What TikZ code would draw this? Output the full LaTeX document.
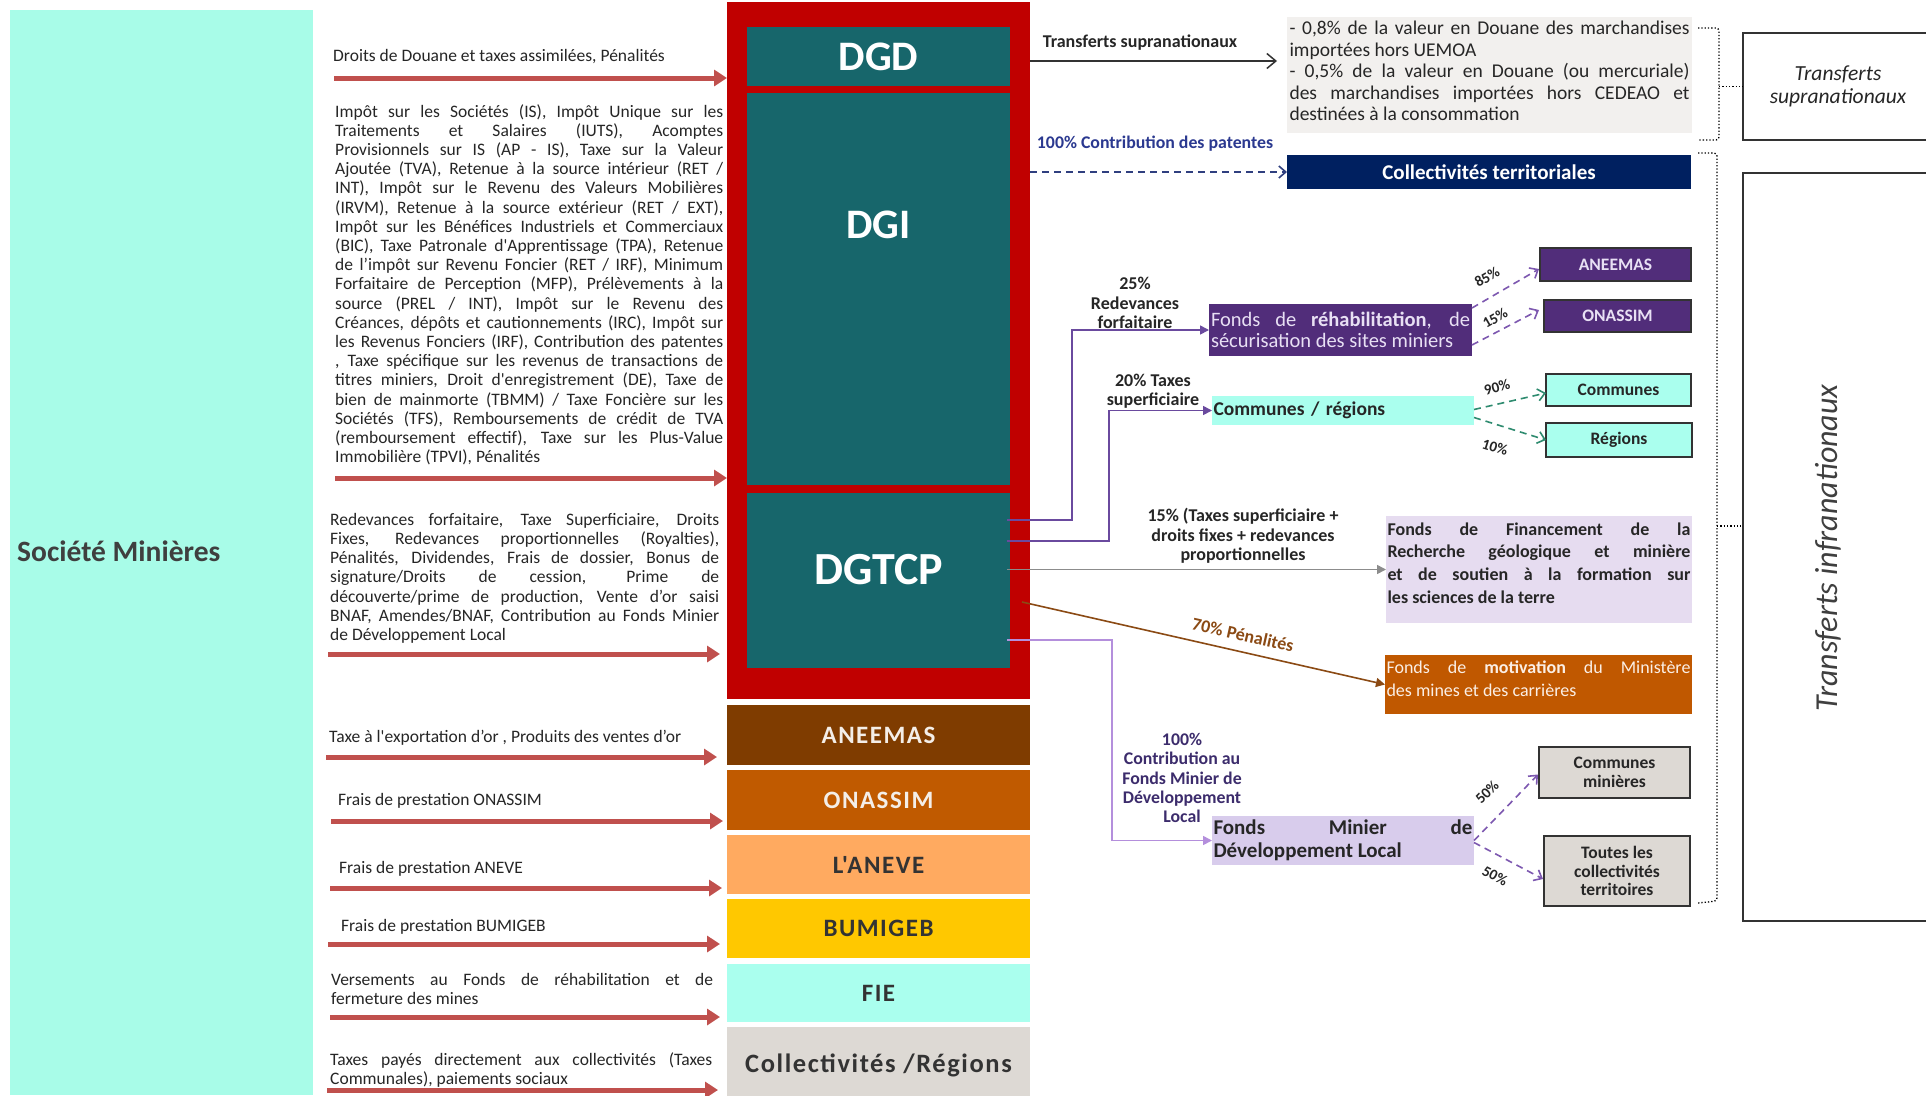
\documentclass[tikz,border=0pt]{standalone}
\usepackage{fontspec}
\setmainfont{Carlito}[Ligatures=TeXOff]
\newfontfamily\widefont{Carlito}[LetterSpace=6,Ligatures=TeXOff]
\usetikzlibrary{arrows.meta,calc}
\definecolor{cAqua}{HTML}{A8FCE8}
\definecolor{cRed}{HTML}{C00000}
\definecolor{cTeal}{HTML}{17666B}
\definecolor{cAne}{HTML}{7F3C00}
\definecolor{cOna}{HTML}{C05A00}
\definecolor{cAnv}{HTML}{FFAA60}
\definecolor{cBum}{HTML}{FFC800}
\definecolor{cFie}{HTML}{AAFFEE}
\definecolor{cCol}{HTML}{DDD9D4}
\definecolor{cArrow}{HTML}{C0504D}
\definecolor{cTxt}{HTML}{262626}
\definecolor{cSoc}{HTML}{3F3F3F}
\definecolor{cLight}{HTML}{F4EEE8}
\definecolor{cGreyBox}{HTML}{F2F0EE}
\definecolor{cNavy}{HTML}{002060}
\definecolor{cPurp}{HTML}{512D7A}
\definecolor{cPurpLine}{HTML}{6A4A9E}
\definecolor{cPurpDash}{HTML}{7D58B0}
\definecolor{cLavA}{HTML}{E6DCF0}
\definecolor{cLavB}{HTML}{D8CCEC}
\definecolor{cLavTxt}{HTML}{E8E0F4}
\definecolor{cMot}{HTML}{C05800}
\definecolor{cMotTxt}{HTML}{FBEFE6}
\definecolor{cBrown}{HTML}{8B4A14}
\definecolor{cGrayLine}{HTML}{8C8C8C}
\definecolor{cLavLine}{HTML}{B48FDC}
\definecolor{cGreen}{HTML}{2E8B6F}
\definecolor{cBlueTxt}{HTML}{2B3990}
\definecolor{cBlueLine}{HTML}{2F3F7F}
\definecolor{cDark}{HTML}{333333}
\definecolor{cMinTxt}{HTML}{3C2C6C}
\newcommand{\fsz}[2]{\fontsize{#1}{#2}\selectfont}
\newcommand{\nohyph}{\hyphenpenalty=10000\relax\exhyphenpenalty=10000\relax}
\tikzset{
  rectbox/.style={anchor=north west, inner sep=0pt, outer sep=0pt},
  redarrow/.style={draw=cArrow, line width=5pt, -{Triangle[length=13pt,width=16pt]}},
  lefttxt/.style={anchor=north west, inner sep=0pt, text=cTxt, align=justify, font=\fsz{17.5}{19.2}},
  single/.style={anchor=west, inner sep=0pt, text=cTxt, font=\fsz{17.5}{19.2}},
  bigtitle/.style={text=white, font=\fsz{42}{42}\bfseries},
  lowtitle/.style={font=\widefont\fsz{25}{25}\bfseries},
  flow/.style={line width=1.6pt, -{Triangle[length=9pt,width=9pt]}},
  dsh/.style={line width=1.6pt, dash pattern=on 7pt off 5pt, -{Straight Barb[length=7pt,width=12pt]}},
  pct/.style={font=\fsz{15}{15}\bfseries, text=cTxt, inner sep=0pt},
  flowlbl/.style={font=\fsz{18}{19.7}\bfseries, text=cTxt, align=center, inner sep=0pt},
  smallbox/.style={rectbox, draw=cDark, line width=1.2pt, font=\fsz{17.5}{18.5}\bfseries, align=center},
  brk/.style={draw=black, line width=1.3pt, dotted, rounded corners=3pt},
}
\begin{document}
\begin{tikzpicture}[x=1pt,y=-1pt]
\useasboundingbox (0,0) rectangle (1926,1095);
\fill[white] (0,0) rectangle (1926,1095);

% left panel
\node[rectbox, fill=cAqua, minimum width=303pt, minimum height=1085pt] (soc) at (10,10) {};
\node[anchor=west, inner sep=0pt, text=cSoc, font=\fsz{29.5}{30}\bfseries] (soclbl) at (17,551) {Société Minières};

% central column
\node[rectbox, fill=cRed, minimum width=303pt, minimum height=697pt] (red) at (727,2) {};
\node[rectbox, fill=cTeal, minimum width=263pt, minimum height=59pt, bigtitle] (dgd) at (747,27) {DGD};
\node[rectbox, fill=cTeal, minimum width=263pt, minimum height=392pt] (dgi) at (747,93) {};
\node[bigtitle] (dgilbl) at (878.5,225) {DGI};
\node[rectbox, fill=cTeal, minimum width=263pt, minimum height=175pt] (dgtcp) at (747,493) {};
\node[bigtitle, font=\fsz{46}{46}\bfseries] (dgtcplbl) at (878.5,570) {DGTCP};

\node[rectbox, fill=cAne, minimum width=303pt, minimum height=60pt, lowtitle, text=cLight] (ane) at (727,705) {ANEEMAS};
\node[rectbox, fill=cOna, minimum width=303pt, minimum height=60pt, lowtitle, text=cLight] (ona) at (727,770) {ONASSIM};
\node[rectbox, fill=cAnv, minimum width=303pt, minimum height=59pt, lowtitle, text=cDark] (anv) at (727,835) {L'ANEVE};
\node[rectbox, fill=cBum, minimum width=303pt, minimum height=59pt, lowtitle, text=cDark] (bum) at (727,899) {BUMIGEB};
\node[rectbox, fill=cFie, minimum width=303pt, minimum height=58pt, lowtitle, text=cDark] (fie) at (727,964) {FIE};
\node[rectbox, fill=cCol, minimum width=303pt, minimum height=76pt, lowtitle, font=\widefont\fsz{26.5}{27}\bfseries, text=cDark] (col) at (727,1027) {Collectivités /Régions};

% left texts
\node[single] (t1) at (333,57) {Droits de Douane et taxes assimilées, Pénalités};
\node[lefttxt, text width=388pt] (t2) at (335,104) {Impôt sur les Sociétés (IS), Impôt Unique sur les\linebreak
Traitements et Salaires (IUTS), Acomptes\linebreak
Provisionnels sur IS (AP - IS), Taxe sur la Valeur\linebreak
Ajoutée (TVA), Retenue à la source intérieur (RET /\linebreak
INT), Impôt sur le Revenu des Valeurs Mobilières\linebreak
(IRVM), Retenue à la source extérieur (RET / EXT),\linebreak
Impôt sur les Bénéfices Industriels et Commerciaux\linebreak
(BIC), Taxe Patronale d'Apprentissage (TPA), Retenue\linebreak
de l’impôt sur Revenu Foncier (RET / IRF), Minimum\linebreak
Forfaitaire de Perception (MFP), Prélèvements à la\linebreak
source (PREL / INT), Impôt sur le Revenu des\linebreak
Créances, dépôts et cautionnements (IRC), Impôt sur\linebreak
les Revenus Fonciers (IRF), Contribution des patentes\linebreak{}
, Taxe spécifique sur les revenus de transactions de\linebreak
titres miniers, Droit d'enregistrement (DE), Taxe de\linebreak
bien de mainmorte (TBMM) / Taxe Foncière sur les\linebreak
Sociétés (TFS), Remboursements de crédit de TVA\linebreak
(remboursement effectif), Taxe sur les Plus-Value\linebreak
Immobilière (TPVI), Pénalités};
\node[lefttxt, text width=389pt] (t3) at (330,513) {Redevances forfaitaire, Taxe Superficiaire, Droits\linebreak
Fixes, Redevances proportionnelles (Royalties),\linebreak
Pénalités, Dividendes, Frais de dossier, Bonus de\linebreak
signature/Droits de cession, Prime de\linebreak
découverte/prime de production, Vente d’or saisi\linebreak
BNAF, Amendes/BNAF, Contribution au Fonds Minier\linebreak
de Développement Local};
\node[single] (t4) at (329,738) {Taxe à l'exportation d’or , Produits des ventes d’or};
\node[single] (t5) at (338,801) {Frais de prestation ONASSIM};
\node[single] (t6) at (339,869) {Frais de prestation ANEVE};
\node[single] (t7) at (341,927) {Frais de prestation BUMIGEB};
\node[lefttxt, text width=382pt] (t8) at (331,973) {Versements au Fonds de réhabilitation et de\linebreak fermeture des mines};
\node[lefttxt, text width=382pt] (t9) at (330,1052) {Taxes payés directement aux collectivités (Taxes\linebreak Communales), paiements sociaux};

% red arrows
\coordinate (a1) at (334,78);   \draw[redarrow] (a1) -- (a1 -| red.west);
\coordinate (a2) at (335,478);  \draw[redarrow] (a2) -- (a2 -| red.west);
\coordinate (a3) at (328,654);  \draw[redarrow] (a3) -- ($(a3 -| red.west)+(-7,0)$);
\coordinate (a4) at (326,757);  \draw[redarrow] (a4) -- ($(a4 -| ane.west)+(-10,0)$);
\coordinate (a5) at (331,821);  \draw[redarrow] (a5) -- ($(a5 -| ona.west)+(-4,0)$);
\coordinate (a6) at (330,888);  \draw[redarrow] (a6) -- ($(a6 -| anv.west)+(-5,0)$);
\coordinate (a7) at (328,944);  \draw[redarrow] (a7) -- ($(a7 -| bum.west)+(-7,0)$);
\coordinate (a8) at (330,1017); \draw[redarrow] (a8) -- ($(a8 -| fie.west)+(-7,0)$);
\coordinate (a9) at (327,1090); \draw[redarrow] (a9) -- ($(a9 -| col.west)+(-9,0)$);

% right: supranational
\node[rectbox, fill=cGreyBox, minimum width=405pt, minimum height=116pt, inner xsep=2.5pt, text width=400pt, align=justify, font=\fsz{19.5}{21.5}, text=cTxt] (douane) at (1287,17) {\nohyph- 0,8\% de la valeur en Douane des marchandises\linebreak
importées hors UEMOA\\
- 0,5\% de la valeur en Douane (ou mercuriale)\linebreak
des marchandises importées hors CEDEAO et\linebreak
destinées à la consommation\par\vspace{8pt}};
\node[rectbox, fill=cNavy, minimum width=404pt, minimum height=34pt, text=white, font=\fsz{21}{21}\bfseries] (colter) at (1287,155) {Collectivités territoriales};

\coordinate (o0) at (1030,61);
\draw[line width=1.5pt, draw=cDark, shorten >=10pt, -{Straight Barb[length=9pt,width=15pt]}] (o0) -- (o0 -| douane.west);
\node[font=\fsz{18}{18}\bfseries, text=cTxt, inner sep=0pt] (lsupra) at (1140,43) {Transferts supranationaux};
\coordinate (op) at (1030,172);
\draw[dsh, draw=cBlueLine] (op) -- (colter.west);
\node[font=\fsz{17.8}{18}\bfseries, text=cBlueTxt, inner sep=0pt] (lpat) at (1155,144) {100\% Contribution des patentes};

% right: flows from DGTCP
\node[rectbox, fill=cPurp, minimum width=263pt, minimum height=52pt, inner xsep=2pt, text width=259pt, align=justify, font=\fsz{20.5}{21}, text=cLavTxt] (reh) at (1209,304) {Fonds de \textbf{réhabilitation}, de\linebreak sécurisation des sites miniers};
\node[rectbox, fill=cFie, minimum width=262pt, minimum height=29pt, inner xsep=1.5pt, text width=259pt, align=left, font=\fsz{19.5}{20}\bfseries, text=cTxt] (comreg) at (1212,396) {Communes / régions};
\node[rectbox, fill=cLavA, minimum width=306pt, minimum height=107pt, inner xsep=1.5pt, text width=303pt, align=justify, font=\fsz{18}{22.7}\bfseries, text=cTxt] (ffr) at (1386,516) {Fonds de Financement de la\linebreak Recherche géologique et minière\linebreak et de soutien à la formation sur\linebreak les sciences de la terre\par\vspace{13pt}};
\node[rectbox, fill=cMot, minimum width=307pt, minimum height=59pt, inner xsep=1.5pt, text width=304pt, align=justify, font=\fsz{18}{22.7}, text=cMotTxt] (fmot) at (1385,655) {Fonds de \textbf{motivation} du Ministère\linebreak des mines et des carrières\par\vspace{12pt}};
\node[rectbox, fill=cLavB, minimum width=262pt, minimum height=49pt, inner xsep=1.5pt, text width=259pt, align=justify, font=\fsz{21}{22.7}\bfseries, text=cTxt] (fmdl) at (1212,816) {Fonds Minier de\linebreak Développement Local};

\coordinate (o1) at (1007,520);
\coordinate (o2) at (1007,541);
\coordinate (o3) at (1007,569.5);
\coordinate (o4) at (1022,602);
\coordinate (o5) at (1007,640);
\draw[flow, draw=cPurpLine] (o1) -| (1072,330) -- (reh.west);
\draw[flow, draw=cPurpLine] (o2) -| (1109,410.5) -- (comreg.west);
\draw[flow, draw=cGrayLine] (o3) -- (ffr.west);
\draw[flow, draw=cBrown] (o4) -- (fmot.west);
\draw[flow, draw=cLavLine] (o5) -| (1112,840.5) -- (fmdl.west);

\node[flowlbl] (l25) at (1135,303) {25\%\\Redevances\\forfaitaire};
\node[flowlbl, font=\fsz{18}{18.5}\bfseries] (l20) at (1153,391) {20\% Taxes\\superficiaire};
\node[flowlbl, font=\fsz{18}{19.5}\bfseries] (l15) at (1243,536) {15\% (Taxes superficiaire +\\droits fixes + redevances\\proportionnelles};
\node[flowlbl, text=cBrown, rotate=-12.6] (l70) at (1243,635) {70\% Pénalités};
\node[flowlbl, text=cMinTxt, font=\fsz{17.8}{19.3}\bfseries] (l100) at (1182,778) {100\%\\Contribution au\\Fonds Minier de\\Développement\\Local};

% small destination boxes
\node[smallbox, fill=cPurp, text=cLavTxt, minimum width=151pt, minimum height=33pt] (sane) at (1540,248) {ANEEMAS};
\node[smallbox, fill=cPurp, text=cLavTxt, minimum width=147pt, minimum height=32pt] (sona) at (1544,300) {ONASSIM};
\node[smallbox, fill=cFie, text=cTxt, minimum width=145pt, minimum height=32pt] (scom) at (1546,374) {Communes};
\node[smallbox, fill=cFie, text=cTxt, minimum width=146pt, minimum height=34pt] (sreg) at (1546,423) {Régions};
\node[smallbox, fill=cCol, text=cTxt, minimum width=151pt, minimum height=51pt] (scm) at (1539,747) {Communes\\minières};
\node[smallbox, fill=cCol, text=cTxt, minimum width=146pt, minimum height=70pt] (stc) at (1544,836) {Toutes les\\collectivités\\territoires};

\draw[dsh, draw=cPurpDash] ($(reh.north east)+(0,4)$) -- ($(sane.south west)+(-1,-12)$);
\draw[dsh, draw=cPurpDash] ($(reh.south east)+(0,-11)$) -- ($(sona.west)+(-5,-6)$);
\draw[dsh, draw=cGreen] ($(comreg.east)+(0,-1)$) -- ($(scom.west)+(0,3)$);
\draw[dsh, draw=cGreen] ($(comreg.east)+(0,7)$) -- (sreg.west);
\draw[dsh, draw=cPurpDash] (fmdl.east) -- ($(scm.west)+(-1,2)$);
\draw[dsh, draw=cPurpDash] ($(fmdl.east)+(0,2)$) -- ($(stc.west)+(-1,8)$);

\node[pct, rotate=30] (p85) at (1487,277) {85\%};
\node[pct, rotate=30] (p15) at (1495,318) {15\%};
\node[pct, rotate=15] (p90) at (1497,387) {90\%};
\node[pct, rotate=-17] (p10) at (1495,447) {10\%};
\node[pct, rotate=45] (p50a) at (1487,792) {50\%};
\node[pct, rotate=-28] (p50b) at (1495,876) {50\%};

% transfer category boxes and brackets
\node[rectbox, draw=cDark, line width=1.3pt, minimum width=190pt, minimum height=107pt, font=\fsz{21.5}{23}\itshape, align=center, text=cTxt] (supra) at (1743,33) {Transferts\\supranationaux};
\node[rectbox, draw=cDark, line width=1.3pt, minimum width=200pt, minimum height=748pt] (infra) at (1743,173) {};
\node[rotate=90, font=\fsz{32}{32}\itshape, text=cSoc, inner sep=0pt] (infralbl) at (1828,548) {Transferts infranationaux};

\draw[brk] (1698,28) -- (1719,28) -- (1719,140) -- (1698,140);
\coordinate (b1) at (1719,86.5);
\draw[brk] (b1) -- (b1 -| supra.west);
\draw[brk] (1698,153) -- (1717,153) -- (1717,901) -- (1698,903);
\coordinate (b2) at (1717,526);
\draw[brk] (b2) -- (b2 -| infra.west);
\end{tikzpicture}
\end{document}
